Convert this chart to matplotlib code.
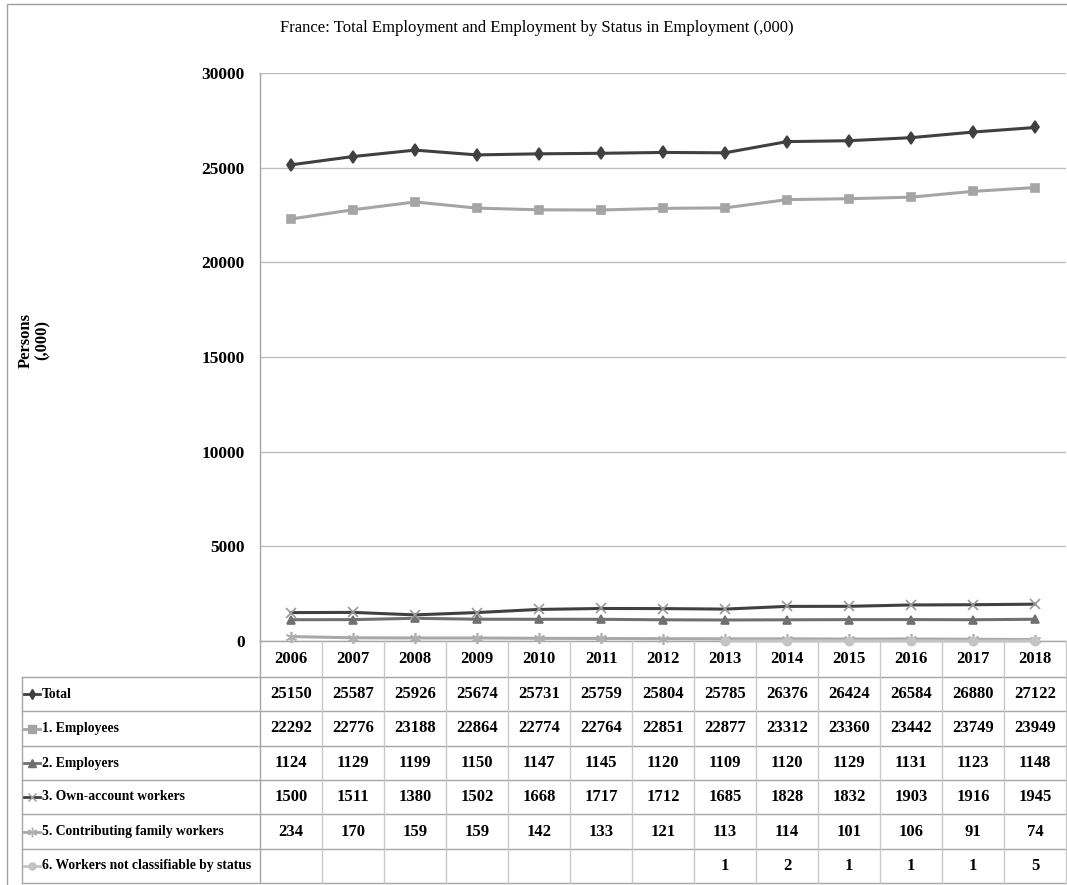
import numpy as np
import matplotlib.pyplot as plt
from matplotlib.transforms import blended_transform_factory
from matplotlib.lines import Line2D
from matplotlib.patches import Rectangle

plt.rcParams['font.family'] = ['Liberation Serif', 'DejaVu Serif']

# ---------------------------------------------------------------------------
# Data (thousands of persons)
# ---------------------------------------------------------------------------
years = [2006, 2007, 2008, 2009, 2010, 2011, 2012,
         2013, 2014, 2015, 2016, 2017, 2018]

total            = [25150, 25587, 25926, 25674, 25731, 25759, 25804,
                    25785, 26376, 26424, 26584, 26880, 27122]
employees        = [22292, 22776, 23188, 22864, 22774, 22764, 22851,
                    22877, 23312, 23360, 23442, 23749, 23949]
employers        = [1124, 1129, 1199, 1150, 1147, 1145, 1120,
                    1109, 1120, 1129, 1131, 1123, 1148]
own_account      = [1500, 1511, 1380, 1502, 1668, 1717, 1712,
                    1685, 1828, 1832, 1903, 1916, 1945]
family_workers   = [234, 170, 159, 159, 142, 133, 121,
                    113, 114, 101, 106, 91, 74]
not_classifiable = [np.nan] * 7 + [1, 2, 1, 1, 1, 5]

series_labels = ["Total", "1. Employees", "2. Employers",
                 "3. Own-account workers", "5. Contributing family workers",
                 "6. Workers not classifiable by status"]
series_values = [total, employees, employers, own_account,
                 family_workers, not_classifiable]

# line colour, marker, marker colour, marker size
styles = [
    ("#404040", "d", "#404040", 6),
    ("#A5A5A5", "s", "#A5A5A5", 6),
    ("#707070", "^", "#707070", 6),
    ("#404040", "x", "#9A9A9A", 7),
    ("#A8A8A8", (6, 2, 0), "#B0B0B0", 8),
    ("#C4C4C4", "o", "#C4C4C4", 6),
]

GRID = "#BFBFBF"
EDGE = "#A6A6A6"

W, H = 1067, 885
fig = plt.figure(figsize=(W / 100, H / 100), dpi=100)


def fx(px):
    return px / W


def fy(py):
    return 1 - py / H


ax = fig.add_axes([fx(260), fy(641), (1066 - 260) / W, 568 / H])
x = np.arange(len(years))

for values, (lc, mk, mc, ms) in zip(series_values, styles):
    ax.plot(x, values, color=lc, lw=2.2, marker=mk, ms=ms,
            mfc=mc, mec=mc, mew=1.2, clip_on=False, zorder=3)

ax.set_xlim(-0.5, len(years) - 0.5)
ax.set_ylim(0, 30000)
ax.set_yticks(range(0, 30001, 5000))
ax.set_yticklabels([str(v) for v in range(0, 30001, 5000)],
                   fontsize=12.5, fontweight="bold")
ax.tick_params(axis="y", length=0, pad=11)
ax.set_xticks([])
ax.yaxis.grid(True, color=GRID, lw=1)
ax.set_axisbelow(True)
for side in ("top", "right"):
    ax.spines[side].set_visible(False)
for side in ("left", "bottom"):
    ax.spines[side].set_color(EDGE)
    ax.spines[side].set_linewidth(1)

fig.text(fx(537), fy(28), "France: Total Employment and Employment by Status in Employment (,000)",
         ha="center", va="center", fontsize=12)
fig.text(fx(34), fy(340), "Persons\n(,000)", rotation=90, ha="center",
         va="center", fontsize=12, fontweight="bold", linespacing=1.1)

# ---------------------------------------------------------------------------
# Data table under the chart
# ---------------------------------------------------------------------------
row_edges = [677, 711, 746, 780, 814, 849, 883]
tr = blended_transform_factory(ax.transData, fig.transFigure)

for yp in row_edges:
    fig.add_artist(Line2D([fx(22), fx(1066)], [fy(yp), fy(yp)],
                          color=EDGE, lw=1))
fig.add_artist(Line2D([fx(22), fx(22)], [fy(677), fy(883)], color=EDGE, lw=1))
fig.add_artist(Line2D([fx(260), fx(260)], [fy(641), fy(883)], color=EDGE, lw=1))
for i in range(len(years)):
    xb = i + 0.5
    fig.add_artist(Line2D([xb, xb], [fy(641), fy(883)], color="#C8C8C8",
                          lw=1, transform=tr))

for i, yr in enumerate(years):
    fig.text(i, fy(659), str(yr), transform=tr, ha="center", va="center",
             fontsize=12, fontweight="bold")

for r, (label, values, (lc, mk, mc, ms)) in enumerate(
        zip(series_labels, series_values, styles)):
    yc = fy((row_edges[r] + row_edges[r + 1]) / 2)
    fig.add_artist(Line2D([fx(24), fx(40)], [yc, yc], color=lc, lw=2))
    fig.add_artist(Line2D([fx(32)], [yc], color=mc, marker=mk,
                          ms=ms * 0.85, mfc=mc, mec=mc, mew=1))
    fig.text(fx(42), yc, label, ha="left", va="center",
             fontsize=9.8, fontweight="bold")
    for i, v in enumerate(values):
        if np.isnan(v):
            continue
        fig.text(i, yc, str(int(v)), transform=tr, ha="center",
                 va="center", fontsize=12, fontweight="bold")

# outer chart-area border
fig.add_artist(Rectangle((fx(7), fy(895)), fx(1075) - fx(7), fy(4) - fy(895),
                         transform=fig.transFigure, fill=False,
                         ec="#A0A0A0", lw=1))

fig.savefig("out.png", dpi=100)
